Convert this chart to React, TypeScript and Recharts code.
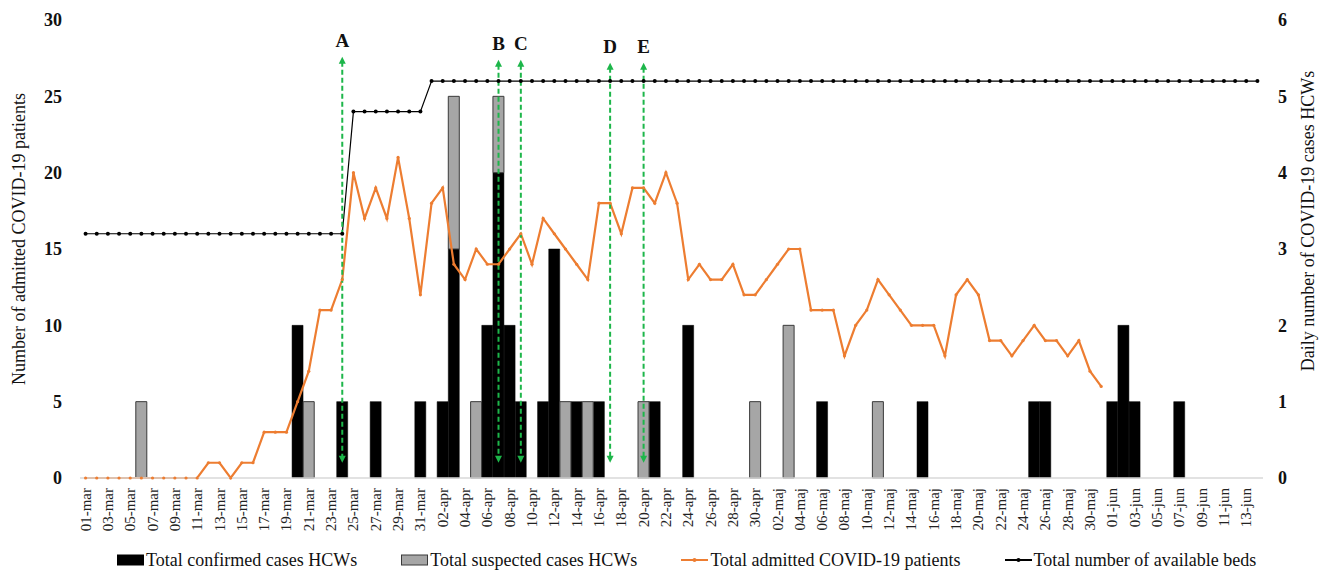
import React from 'react';
import { ComposedChart, Bar, Line, XAxis, YAxis, Legend, ReferenceLine } from 'recharts';

const FONT = '"Liberation Serif", "Times New Roman", serif';

// day categories: 01-mar .. 14-jun
const monthNames = ['mar', 'apr', 'maj', 'jun'];
const monthLengths = [31, 30, 31, 14];
const days: string[] = [];
monthNames.forEach((m, k) => {
  for (let d = 1; d <= monthLengths[k]; d++) days.push(`${String(d).padStart(2, '0')}-${m}`);
});

// total admitted COVID-19 patients (left axis), 01-mar .. 31-maj
const admitted = [
  0, 0, 0, 0, 0, 0, 0, 0, 0, 0, 0, 1, 1, 0, 1, 1, 3, 3, 3, 5, 7, 11, 11, 13, 20, 17, 19, 17, 21, 17, 12,
  18, 19, 14, 13, 15, 14, 14, 15, 16, 14, 17, 16, 15, 14, 13, 18, 18, 16, 19, 19, 18, 20, 18, 13, 14, 13, 13, 14, 12, 12,
  13, 14, 15, 15, 11, 11, 11, 8, 10, 11, 13, 12, 11, 10, 10, 10, 8, 12, 13, 12, 9, 9, 8, 9, 10, 9, 9, 8, 9, 7, 6,
];

// total number of available beds (left axis), 01-mar .. 14-jun
const beds = [
  16, 16, 16, 16, 16, 16, 16, 16, 16, 16, 16, 16, 16, 16, 16, 16, 16, 16, 16, 16, 16, 16, 16, 16,
  24, 24, 24, 24, 24, 24, 24,
  26, 26, 26, 26, 26, 26, 26, 26, 26, 26, 26, 26, 26, 26, 26,
  26, 26, 26, 26, 26, 26, 26, 26, 26, 26, 26, 26, 26, 26, 26,
  26, 26, 26, 26, 26, 26, 26, 26, 26, 26, 26, 26, 26, 26, 26,
  26, 26, 26, 26, 26, 26, 26, 26, 26, 26, 26, 26, 26, 26, 26,
  26, 26, 26, 26, 26, 26, 26, 26, 26, 26, 26, 26, 26, 26, 26,
];

// daily HCW cases (right axis)
const confirmedCases: [string, number][] = [
  ['20-mar', 2], ['24-mar', 1], ['27-mar', 1], ['31-mar', 1], ['02-apr', 1], ['03-apr', 3],
  ['06-apr', 2], ['07-apr', 4], ['08-apr', 2], ['09-apr', 1], ['11-apr', 1], ['12-apr', 3],
  ['14-apr', 1], ['16-apr', 1], ['21-apr', 1], ['24-apr', 2], ['06-maj', 1], ['15-maj', 1],
  ['25-maj', 1], ['26-maj', 1], ['01-jun', 1], ['02-jun', 2], ['03-jun', 1], ['07-jun', 1],
];
const suspectedCases: [string, number][] = [
  ['06-mar', 1], ['21-mar', 1], ['03-apr', 2], ['05-apr', 1], ['07-apr', 1], ['13-apr', 1],
  ['15-apr', 1], ['20-apr', 1], ['30-apr', 1], ['03-maj', 2], ['11-maj', 1],
];

// event markers A-E
const events = [
  { tag: 'A', day: '24-mar', top: 27.6 },
  { tag: 'B', day: '07-apr', top: 27.4 },
  { tag: 'C', day: '09-apr', top: 27.4 },
  { tag: 'D', day: '17-apr', top: 27.2 },
  { tag: 'E', day: '20-apr', top: 27.2 },
];

const leftTicks = [0, 5, 10, 15, 20, 25, 30];
const rightTicks = [0, 1, 2, 3, 4, 5, 6];

const confirmedMap = new Map(confirmedCases);
const suspectedMap = new Map(suspectedCases);

const data = days.map((day, i) => ({
  day,
  confirmed: confirmedMap.get(day) ?? null,
  suspected: suspectedMap.get(day) ?? null,
  admitted: i < admitted.length ? admitted[i] : null,
  beds: beds[i],
}));

const GREEN = '#1db64a';
const ORANGE = '#ED7D31';

function DayTick(props: any) {
  const { x, y, payload } = props;
  return (
    <text
      x={x}
      y={y}
      transform={`rotate(-90, ${x}, ${y})`}
      textAnchor="end"
      dominantBaseline="central"
      fontFamily={FONT}
      fontSize={15}
      fill="#222"
    >
      {payload.value}
    </text>
  );
}

function EventArrow(props: any) {
  const { x1, y1, y2, tag } = props;
  const top = Math.min(y1, y2);
  const bot = Math.max(y1, y2);
  const x = x1;
  return (
    <g>
      <line x1={x} y1={top + 5} x2={x} y2={bot - 5} stroke={GREEN} strokeWidth={2} strokeDasharray="5 3" />
      <polygon points={`${x},${top} ${x - 3.5},${top + 7} ${x + 3.5},${top + 7}`} fill={GREEN} />
      <polygon points={`${x},${bot} ${x - 3.5},${bot - 7} ${x + 3.5},${bot - 7}`} fill={GREEN} />
      <text x={x} y={top - 10} textAnchor="middle" fontFamily={FONT} fontWeight="bold" fontSize={19} fill="#111">
        {tag}
      </text>
    </g>
  );
}

const legendItems = [
  { name: 'Total confirmed cases HCWs', kind: 'bar', color: '#000', edge: '#000' },
  { name: 'Total suspected cases HCWs', kind: 'bar', color: '#a6a6a6', edge: '#3a3a3a' },
  { name: 'Total admitted COVID-19 patients', kind: 'line', color: ORANGE, edge: ORANGE },
  { name: 'Total number of available beds', kind: 'line', color: '#000', edge: '#000' },
];

function ChartLegend() {
  return (
    <div
      style={{
        display: 'flex',
        alignItems: 'center',
        gap: 44,
        paddingLeft: 97,
        paddingTop: 12,
        fontFamily: FONT,
        fontSize: 18,
        color: '#111',
        height: 20,
      }}
    >
      {legendItems.map((it) => (
        <div key={it.name} style={{ display: 'flex', alignItems: 'center' }}>
          <svg width={27} height={12} style={{ marginRight: 2 }}>
            {it.kind === 'bar' ? (
              <rect x={0.5} y={1} width={26} height={10} fill={it.color} stroke={it.edge} strokeWidth={1} />
            ) : (
              <g>
                <line x1={0} y1={6} x2={27} y2={6} stroke={it.color} strokeWidth={2} />
                <circle cx={13.5} cy={6} r={2} fill={it.color} />
              </g>
            )}
          </svg>
          <span>{it.name}</span>
        </div>
      ))}
    </div>
  );
}

export default function App() {
  return (
    <div style={{ width: 1319, height: 570, background: '#fff' }}>
      <style>{'body{margin:0}'}</style>
      <ComposedChart
        width={1319}
        height={570}
        data={data}
        margin={{ top: 20, right: 16, left: 20, bottom: 0 }}
        barCategoryGap={0}
        barGap={0}
      >
        <XAxis
          dataKey="day"
          interval={1}
          tick={<DayTick />}
          tickLine={false}
          tickSize={6}
          tickMargin={4}
          axisLine={{ stroke: '#d9d9d9', strokeWidth: 1.5 }}
          height={60}
        />
        <YAxis
          yAxisId="left"
          domain={[0, 30]}
          ticks={leftTicks}
          width={60}
          axisLine={false}
          tickLine={false}
          tickMargin={12}
          tick={{ fontFamily: FONT, fontSize: 18, fontWeight: 'bold', fill: '#111' }}
          label={{
            value: 'Number of admitted COVID-19 patients',
            angle: -90,
            position: 'insideLeft',
            offset: -1,
            dy: -10,
            style: { fontFamily: FONT, fontSize: 18, fill: '#111', textAnchor: 'middle' },
          }}
        />
        <YAxis
          yAxisId="right"
          orientation="right"
          domain={[0, 6]}
          ticks={rightTicks}
          width={40}
          axisLine={false}
          tickLine={false}
          tickMargin={9}
          tick={{ fontFamily: FONT, fontSize: 18, fontWeight: 'bold', fill: '#111' }}
          label={{
            value: 'Daily number of COVID-19 cases HCWs',
            angle: -90,
            position: 'insideRight',
            offset: -5,
            dy: -28,
            style: { fontFamily: FONT, fontSize: 18, fill: '#111', textAnchor: 'middle' },
          }}
        />
        <Legend verticalAlign="bottom" content={<ChartLegend />} wrapperStyle={{ height: 32 }} />
        <Bar
          yAxisId="right"
          dataKey="confirmed"
          stackId="hcw"
          fill="#000"
          stroke="#000"
          strokeWidth={0.5}
          isAnimationActive={false}
        />
        <Bar
          yAxisId="right"
          dataKey="suspected"
          stackId="hcw"
          fill="#a6a6a6"
          stroke="#3a3a3a"
          strokeWidth={1}
          isAnimationActive={false}
        />
        <Line
          yAxisId="left"
          dataKey="admitted"
          stroke={ORANGE}
          strokeWidth={2.2}
          dot={{ r: 1.6, fill: ORANGE, stroke: 'none' }}
          isAnimationActive={false}
        />
        <Line
          yAxisId="left"
          dataKey="beds"
          stroke="#000"
          strokeWidth={1.2}
          dot={{ r: 2, fill: '#000', stroke: 'none' }}
          isAnimationActive={false}
        />
        {events.map((ev) => (
          <ReferenceLine
            key={ev.tag}
            yAxisId="left"
            segment={[
              { x: ev.day, y: 1 },
              { x: ev.day, y: ev.top },
            ]}
            shape={(p: any) => <EventArrow {...p} tag={ev.tag} />}
          />
        ))}
      </ComposedChart>
    </div>
  );
}
